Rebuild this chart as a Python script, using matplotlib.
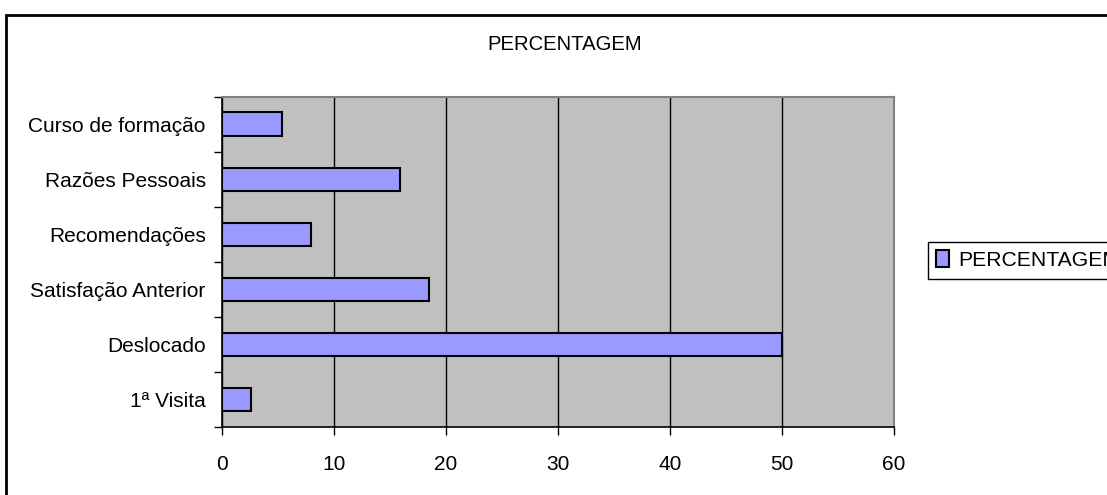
import matplotlib
matplotlib.use("Agg")
import matplotlib.pyplot as plt
from matplotlib.patches import Rectangle
import numpy as np

categories = ["1ª Visita", "Deslocado", "Satisfação Anterior",
              "Recomendações", "Razões Pessoais", "Curso de formação"]
values = [2.6, 50.0, 18.5, 7.9, 15.9, 5.3]
x_ticks = [0, 10, 20, 30, 40, 50, 60]
series_name = "PERCENTAGEM"
title = "PERCENTAGEM"

plt.rcParams["font.family"] = ["Liberation Sans", "DejaVu Sans"]

W, H = 1107, 495
fig = plt.figure(figsize=(W / 100, H / 100), dpi=100)
fig.patch.set_facecolor("white")

ax = fig.add_axes([222.3 / W, 1 - 427 / H, (893.7 - 222.3) / W, (427 - 96.5) / H])
ax.set_facecolor("#C0C0C0")

y = np.arange(len(categories))
ax.barh(y, values, height=0.42, color="#9999FF", edgecolor="black",
        linewidth=1.5, label=series_name, zorder=3)

ax.set_xlim(0, 60)
ax.set_ylim(-0.5, len(categories) - 0.5)
ax.set_xticks(x_ticks)
ax.set_xticklabels([str(t) for t in x_ticks], fontsize=15)
ax.xaxis.grid(True, color="black", linewidth=1.0, zorder=1)
ax.set_axisbelow(True)

# category boundaries carry the tick marks, centres carry the labels
ax.set_yticks(np.arange(len(categories) + 1) - 0.5)
ax.set_yticklabels([])
ax.set_yticks(y, minor=True)
ax.set_yticklabels(categories, minor=True, fontsize=15)
ax.tick_params(axis="y", which="major", direction="out", length=6, width=1, color="black")
ax.tick_params(axis="y", which="minor", length=0, pad=12)
ax.tick_params(axis="x", which="major", direction="out", length=6, width=1,
               color="black", pad=14)

for s in ("left", "bottom"):
    ax.spines[s].set_color("black")
    ax.spines[s].set_linewidth(1.2)
for s in ("top", "right"):
    ax.spines[s].set_color("#808080")
    ax.spines[s].set_linewidth(1.5)

fig.text(565 / W, 1 - 45 / H, title, ha="center", va="center", fontsize=14.6)

leg = ax.legend(loc="upper left", bbox_to_anchor=(928 / W, 1 - 242 / H),
                bbox_transform=fig.transFigure, fontsize=15.2, frameon=True,
                fancybox=False, edgecolor="black", framealpha=1,
                handlelength=0.6, handleheight=0.85, handletextpad=0.45,
                borderpad=0.4, borderaxespad=0)
leg.get_frame().set_linewidth(1.0)

# outer chart border
fig.patches.append(Rectangle((6 / W, -0.2), 2.0, 1.2 - 15 / H, transform=fig.transFigure,
                             fill=False, edgecolor="black", linewidth=2.0))

fig.savefig("out.png", dpi=100)
